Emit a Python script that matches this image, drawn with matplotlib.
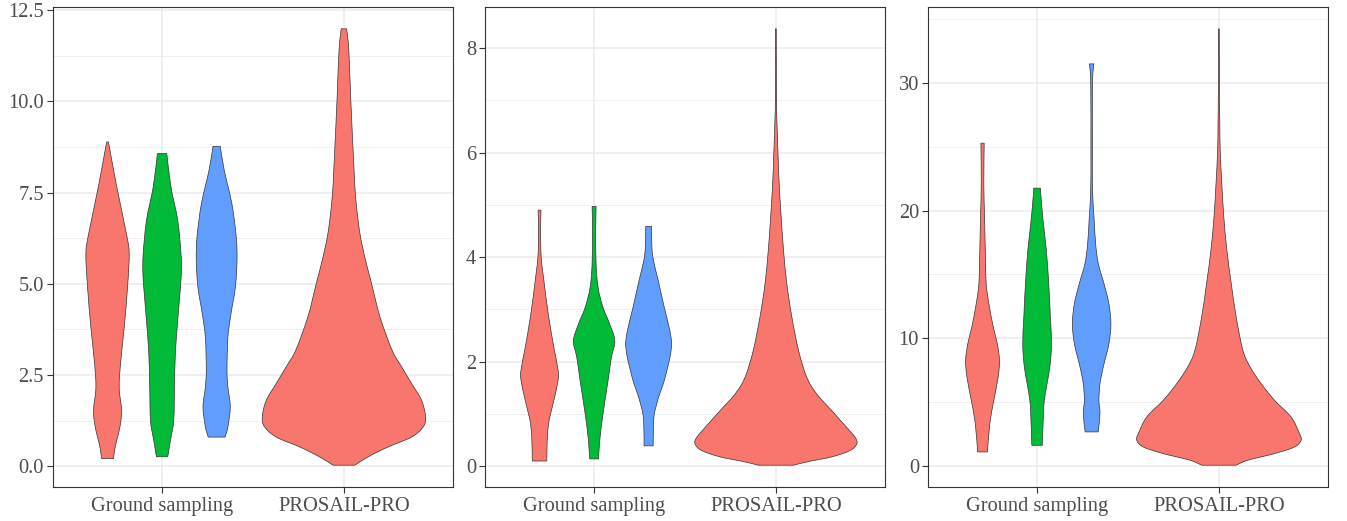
import numpy as np
import matplotlib
matplotlib.use('Agg')
import matplotlib.pyplot as plt
from matplotlib.path import Path
from matplotlib.patches import PathPatch

# categories / groups
categories = ['Ground sampling', 'PROSAIL-PRO']
group_colors = ['#F8766D', '#00BA38', '#619CFF']

# violin profiles: y levels and half-width (density, x units)
# panel 1
p1_red_y = [0.21, 0.53, 1.08, 1.53, 2.17, 2.90, 3.82, 4.91, 5.83, 6.37, 7.65, 8.89]
p1_red_w = [0.033, 0.042, 0.068, 0.077, 0.064, 0.073, 0.092, 0.110, 0.119, 0.104, 0.051, 0.005]
p1_green_y = [0.26, 0.71, 1.26, 2.17, 3.09, 4.00, 4.91, 5.37, 5.83, 6.74, 7.65, 8.57]
p1_green_w = [0.031, 0.046, 0.064, 0.068, 0.073, 0.086, 0.101, 0.106, 0.104, 0.086, 0.049, 0.026]
p1_blue_y = [0.80, 1.08, 1.63, 2.17, 2.63, 3.54, 4.18, 4.91, 5.64, 6.28, 7.19, 8.11, 8.77]
p1_blue_w = [0.046, 0.062, 0.075, 0.062, 0.057, 0.062, 0.079, 0.103, 0.112, 0.108, 0.084, 0.042, 0.020]
p1_pro_y = [0.03, 0.26, 0.53, 0.80, 1.08, 1.35, 1.81, 2.27, 2.73, 3.18, 4.10, 5.01, 5.65,
            6.38, 7.29, 8.20, 10.03, 11.40, 11.99]
p1_pro_w = [0.060, 0.134, 0.243, 0.372, 0.436, 0.449, 0.427, 0.372, 0.317, 0.265, 0.198, 0.152,
            0.119, 0.088, 0.066, 0.055, 0.038, 0.027, 0.015]

# panel 2
p2_red_y = [0.10, 0.49, 0.80, 0.99, 1.31, 1.63, 1.82, 2.27, 2.91, 3.55, 4.00, 4.51, 4.90]
p2_red_w = [0.040, 0.042, 0.049, 0.060, 0.082, 0.101, 0.103, 0.079, 0.048, 0.024, 0.009, 0.006, 0.008]
p2_green_y = [0.14, 0.49, 1.00, 1.64, 2.08, 2.40, 2.72, 3.04, 3.42, 3.87, 4.51, 4.97]
p2_green_w = [0.025, 0.031, 0.049, 0.077, 0.095, 0.114, 0.086, 0.049, 0.022, 0.011, 0.009, 0.011]
p2_blue_y = [0.39, 0.68, 0.99, 1.32, 1.64, 2.08, 2.34, 2.59, 3.04, 3.55, 3.93, 4.19, 4.59]
p2_blue_w = [0.025, 0.026, 0.031, 0.055, 0.086, 0.117, 0.126, 0.117, 0.086, 0.053, 0.027, 0.018, 0.016]
p2_pro_y = [0.02, 0.09, 0.18, 0.30, 0.43, 0.55, 0.74, 1.06, 1.38, 1.70, 2.21, 2.85, 3.49,
            4.13, 4.77, 5.40, 6.04, 6.68, 7.06, 8.37]
p2_pro_w = [0.097, 0.180, 0.308, 0.408, 0.445, 0.436, 0.390, 0.308, 0.225, 0.170, 0.125, 0.088,
            0.060, 0.042, 0.029, 0.018, 0.011, 0.005, 0.003, 0.002]

# panel 3
p3_red_y = [1.07, 3.29, 5.12, 6.95, 8.25, 9.56, 10.87, 12.69, 14.27, 16.36, 19.50, 22.10, 25.29]
p3_red_w = [0.027, 0.040, 0.062, 0.086, 0.093, 0.081, 0.059, 0.035, 0.020, 0.016, 0.011, 0.007, 0.009]
p3_green_y = [1.59, 3.29, 5.12, 7.73, 9.56, 11.65, 14.27, 16.88, 19.49, 21.76]
p3_green_w = [0.029, 0.033, 0.040, 0.070, 0.079, 0.073, 0.064, 0.051, 0.031, 0.018]
p3_blue_y = [2.64, 4.08, 5.12, 6.43, 7.73, 9.56, 11.13, 12.70, 14.27, 15.83, 17.40, 19.50,
             21.60, 24.80, 30.00, 31.51]
p3_blue_w = [0.036, 0.046, 0.040, 0.046, 0.064, 0.095, 0.106, 0.095, 0.068, 0.037, 0.022, 0.013,
             0.005, 0.004, 0.005, 0.012]
p3_pro_y = [0.03, 0.42, 0.94, 1.46, 1.99, 2.51, 3.81, 5.12, 6.43, 7.73, 9.04, 11.65, 14.27,
            16.88, 19.49, 22.10, 24.72, 26.80, 29.42, 34.26]
p3_pro_w = [0.095, 0.159, 0.306, 0.416, 0.452, 0.443, 0.397, 0.306, 0.232, 0.172, 0.132, 0.095,
            0.068, 0.044, 0.027, 0.016, 0.007, 0.005, 0.003, 0.002]

p1_ticks = [0.0, 2.5, 5.0, 7.5, 10.0, 12.5]
p1_ticklabels = ['0.0', '2.5', '5.0', '7.5', '10.0', '12.5']
p2_ticks = [0, 2, 4, 6, 8]
p3_ticks = [0, 10, 20, 30]

panels = [
    dict(ground=[(p1_red_y, p1_red_w), (p1_green_y, p1_green_w), (p1_blue_y, p1_blue_w)],
         pro=(p1_pro_y, p1_pro_w), ticks=p1_ticks, labels=p1_ticklabels),
    dict(ground=[(p2_red_y, p2_red_w), (p2_green_y, p2_green_w), (p2_blue_y, p2_blue_w)],
         pro=(p2_pro_y, p2_pro_w), ticks=p2_ticks, labels=[str(t) for t in p2_ticks]),
    dict(ground=[(p3_red_y, p3_red_w), (p3_green_y, p3_green_w), (p3_blue_y, p3_blue_w)],
         pro=(p3_pro_y, p3_pro_w), ticks=p3_ticks, labels=[str(t) for t in p3_ticks]),
]

plt.rcParams['font.family'] = ['Liberation Serif', 'DejaVu Serif']

fig = plt.figure(figsize=(13.47, 5.21), dpi=100, facecolor='w')
lefts = [53, 485, 928]
W, H = 1347.0, 521.0
dodge = [-0.3, 0.0, 0.3]


def side_curve(pts):
    # smooth bezier through the profile knots (Catmull-Rom style control points)
    verts, codes = [], []
    n = len(pts)
    for i in range(n - 1):
        p0 = pts[max(i - 1, 0)]
        p1 = pts[i]
        p2 = pts[i + 1]
        p3 = pts[min(i + 2, n - 1)]
        c1 = p1 + (p2 - p0) / 6.0
        c2 = p2 - (p3 - p1) / 6.0
        verts += [c1, c2, p2]
        codes += [Path.CURVE4] * 3
    return verts, codes


def draw_violin(ax, xc, y, w, color):
    y = np.asarray(y, float)
    w = np.asarray(w, float)
    right = np.column_stack([xc + w, y])
    left = np.column_stack([xc - w, y])[::-1]
    verts = [right[0]]
    codes = [Path.MOVETO]
    v, c = side_curve(right)
    verts += v; codes += c
    verts.append(left[0]); codes.append(Path.LINETO)
    v, c = side_curve(left)
    verts += v; codes += c
    verts.append(right[0]); codes.append(Path.CLOSEPOLY)
    patch = PathPatch(Path(verts, codes), facecolor=color, edgecolor='#333333',
                      linewidth=0.5, zorder=3)
    ax.add_patch(patch)


for k, p in enumerate(panels):
    ax = fig.add_axes([lefts[k] / W, (H - 487) / H, 400 / W, 480 / H])
    for g, (y, w) in enumerate(p['ground']):
        draw_violin(ax, 1 + dodge[g], y, w, group_colors[g])
    draw_violin(ax, 2, p['pro'][0], p['pro'][1], group_colors[0])

    ax.set_xticks([1, 2])
    ax.set_xticklabels(categories)
    ax.set_yticks(p['ticks'])
    ax.set_yticklabels(p['labels'])
    t = p['ticks']
    step = t[1] - t[0]
    minor = [v + step / 2 for v in t]
    ax.set_yticks(minor, minor=True)
    ax.tick_params(axis='y', which='minor', length=0)

    ymin = min(min(p['pro'][0]), min(min(y) for y, _ in p['ground']))
    ymax = max(max(p['pro'][0]), max(max(y) for y, _ in p['ground']))
    pad = 0.05 * (ymax - ymin)
    ax.set_ylim(ymin - pad, ymax + pad)
    ax.set_xlim(0.4, 2.6)

    ax.grid(True, which='major', color='#EBEBEB', linewidth=1.1, zorder=0)
    ax.grid(True, which='minor', axis='y', color='#EBEBEB', linewidth=0.55, zorder=0)
    ax.set_axisbelow(True)
    for s in ax.spines.values():
        s.set_color('#333333')
        s.set_linewidth(0.8)
    ax.tick_params(axis='both', which='major', colors='#333333', labelcolor='#4D4D4D',
                   labelsize=14.7, width=0.8)
    ax.tick_params(axis='y', which='major', length=4.5, pad=2)
    ax.tick_params(axis='x', which='major', length=4, pad=3)

fig.savefig('out.png', dpi=100)
